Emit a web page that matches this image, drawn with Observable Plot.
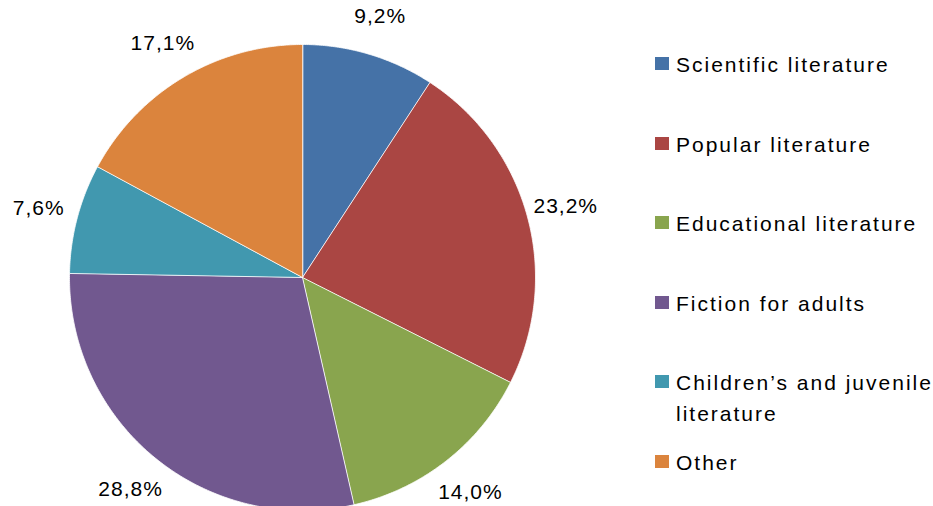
<!DOCTYPE html>
<html>
<head>
<meta charset="utf-8">
<script src="https://cdn.jsdelivr.net/npm/d3@7"></script>
<script src="https://cdn.jsdelivr.net/npm/@observablehq/plot@0.6"></script>
<style>
  html, body { margin: 0; padding: 0; background: #fff; overflow: hidden; }
  #wrap { position: relative; width: 933px; height: 506px; font-family: "Liberation Sans", Arial, sans-serif; }
  #chart { position: absolute; left: 0; top: 0; }
  #chart svg text { letter-spacing: 1px; }
  .item { position: absolute; left: 655px; width: 280px; font-size: 21px; line-height: 31px; letter-spacing: 2px; color: #000; }
  .sw { position: absolute; left: 0; top: 8px; width: 14px; height: 13px; }
  .lbl { position: absolute; left: 21px; width: 258px; }
</style>
</head>
<body>
<div id="wrap"><div id="chart"></div></div>
<script>
// ---- data ----
const categories = [
  "Scientific literature",
  "Popular literature",
  "Educational literature",
  "Fiction for adults",
  "Children’s and juvenile literature",
  "Other"
];
const shares = [9.2, 23.2, 14.0, 28.8, 7.6, 17.1];
const colors = ["#4572A7", "#AA4643", "#89A54E", "#71588F", "#4198AF", "#DB843D"];

// ---- layout ----
const W = 933, H = 506;
const cx = 302, cy = 277, R = 233;
const labelR = 1.17;

const total = d3.sum(shares);
const slices = [];
let acc = 0;
shares.forEach((v, i) => {
  const a0 = acc / total * 2 * Math.PI;
  acc += v;
  const a1 = acc / total * 2 * Math.PI;
  slices.push({cat: categories[i], value: v, a0, a1, mid: (a0 + a1) / 2});
});

// polygon points for each slice (unit circle, clockwise from top)
const pts = [];
for (const s of slices) {
  pts.push({cat: s.cat, x: 0, y: 0});
  const n = Math.max(2, Math.ceil((s.a1 - s.a0) / (Math.PI / 360)));
  for (let k = 0; k <= n; k++) {
    const a = s.a0 + (s.a1 - s.a0) * k / n;
    pts.push({cat: s.cat, x: Math.sin(a), y: Math.cos(a)});
  }
}

const fmt = v => d3.format(".1f")(v).replace(".", ",") + "%";
const labels = slices.map(s => ({
  x: Math.sin(s.mid) * labelR,
  y: Math.cos(s.mid) * labelR,
  text: fmt(s.value)
}));

const plot = Plot.plot({
  width: W,
  height: H,
  margin: 0,
  x: {domain: [-1, 1], range: [cx - R, cx + R], axis: null},
  y: {domain: [-1, 1], range: [cy + R, cy - R], axis: null},
  color: {domain: categories, range: colors},
  style: {fontFamily: "'Liberation Sans', Arial, sans-serif", background: "#fff"},
  marks: [
    Plot.line(pts, {x: "x", y: "y", z: "cat", fill: "cat", stroke: "white", strokeWidth: 0.8, curve: "linear-closed"}),
    Plot.text(labels, {x: "x", y: "y", text: "text", fontSize: 21, fill: "#000"})
  ]
});
document.getElementById("chart").appendChild(plot);

// legend (HTML, same colour scale)
const colorScale = plot.scale("color");
const wrap = document.getElementById("wrap");
const legendTop = 49, legendStep = 79.6;
categories.forEach((c, i) => {
  const item = document.createElement("div");
  item.className = "item";
  item.style.top = (legendTop + i * legendStep) + "px";
  const sw = document.createElement("div");
  sw.className = "sw";
  sw.style.background = colorScale.apply(c);
  const lb = document.createElement("div");
  lb.className = "lbl";
  lb.textContent = c;
  item.appendChild(sw);
  item.appendChild(lb);
  wrap.appendChild(item);
});
</script>
</body>
</html>
